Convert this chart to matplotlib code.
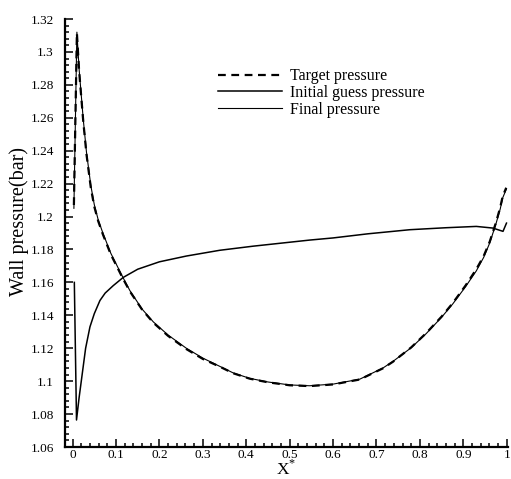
import matplotlib
matplotlib.use('Agg')
import matplotlib.pyplot as plt
from matplotlib.ticker import MultipleLocator

plt.rcParams['font.family'] = ['Liberation Serif', 'DejaVu Serif']
plt.rcParams['mathtext.fontset'] = 'custom'
plt.rcParams['mathtext.rm'] = 'Liberation Serif'

# target pressure (dashed)
x_target = [0.003, 0.0099, 0.015, 0.0245, 0.032, 0.042, 0.050, 0.059, 0.070, 0.088,
            0.115, 0.132, 0.16, 0.186, 0.22, 0.262, 0.30, 0.339, 0.37, 0.408,
            0.45, 0.50, 0.546, 0.60, 0.6615, 0.715, 0.738, 0.78, 0.815, 0.85,
            0.876, 0.905, 0.93, 0.947, 0.961, 0.9755, 0.985, 0.991, 0.999]
p_target = [1.207, 1.3115, 1.2885, 1.258, 1.2378, 1.2175, 1.206, 1.1972, 1.189, 1.177,
            1.1628, 1.1545, 1.1435, 1.1355, 1.1275, 1.1195, 1.1135, 1.1088, 1.1048, 1.1015,
            1.0993, 1.0975, 1.097, 1.098, 1.101, 1.1078, 1.1118, 1.1205, 1.1293, 1.1392,
            1.1475, 1.158, 1.168, 1.176, 1.1848, 1.1965, 1.2055, 1.2125, 1.2175]

# final pressure (thin solid)
x_final = [0.003, 0.0099, 0.015, 0.0245, 0.032, 0.042, 0.050, 0.059, 0.070, 0.088,
           0.115, 0.132, 0.16, 0.186, 0.22, 0.262, 0.30, 0.339, 0.37, 0.408,
           0.45, 0.50, 0.546, 0.60, 0.6615, 0.715, 0.738, 0.78, 0.815, 0.85,
           0.876, 0.905, 0.93, 0.947, 0.961, 0.9755, 0.985, 0.991, 0.999]
p_final = [1.205, 1.312, 1.2895, 1.2592, 1.239, 1.2188, 1.2072, 1.198, 1.1898, 1.1777,
           1.1635, 1.155, 1.1438, 1.136, 1.128, 1.120, 1.114, 1.109, 1.105, 1.1017,
           1.0995, 1.0977, 1.0972, 1.0982, 1.1012, 1.108, 1.112, 1.1203, 1.129, 1.1388,
           1.147, 1.1573, 1.167, 1.1752, 1.184, 1.1958, 1.2045, 1.2115, 1.2165]

# initial guess pressure (solid)
x_init = [0.004, 0.009, 0.015, 0.0245, 0.030, 0.040, 0.050, 0.063, 0.075, 0.0935,
          0.1165, 0.15, 0.20, 0.262, 0.339, 0.416, 0.546, 0.60, 0.68, 0.777,
          0.86, 0.93, 0.968, 0.9915, 0.9995]
p_init = [1.160, 1.0764, 1.090, 1.109, 1.120, 1.133, 1.141, 1.149, 1.1535, 1.158,
          1.163, 1.168, 1.1725, 1.176, 1.1795, 1.182, 1.1857, 1.187, 1.1895, 1.192,
          1.1932, 1.194, 1.193, 1.191, 1.196]

x_ticks = [0, 0.1, 0.2, 0.3, 0.4, 0.5, 0.6, 0.7, 0.8, 0.9, 1]
x_ticklabels = ['0', '0.1', '0.2', '0.3', '0.4', '0.5', '0.6', '0.7', '0.8', '0.9', '1']
y_ticks = [1.06, 1.08, 1.1, 1.12, 1.14, 1.16, 1.18, 1.2, 1.22, 1.24, 1.26, 1.28, 1.3, 1.32]
y_ticklabels = ['1.06', '1.08', '1.1', '1.12', '1.14', '1.16', '1.18', '1.2',
                '1.22', '1.24', '1.26', '1.28', '1.3', '1.32']

fig = plt.figure(figsize=(5.11, 4.79), dpi=100)
ax = fig.add_axes([65 / 511, 1 - 447 / 479, 443 / 511, 428 / 479])

ax.plot(x_target, p_target, color='black', linewidth=1.6, dashes=(3.5, 2.5),
        label='Target pressure')
ax.plot(x_init, p_init, color='black', linewidth=1.1, label='Initial guess pressure')
ax.plot(x_final, p_final, color='black', linewidth=0.8, label='Final pressure')

ax.set_xlim(-0.0175, 1.003)
ax.set_ylim(1.06, 1.32)

for side in ['top', 'right']:
    ax.spines[side].set_visible(False)
for side in ['left', 'bottom']:
    ax.spines[side].set_linewidth(1.6)

ax.set_xticks(x_ticks)
ax.set_xticklabels(x_ticklabels)
ax.set_yticks(y_ticks)
ax.set_yticklabels(y_ticklabels)
ax.xaxis.set_minor_locator(MultipleLocator(0.02))
ax.yaxis.set_minor_locator(MultipleLocator(0.004))
ax.tick_params(which='both', direction='in', top=False, right=False, width=1.1)
ax.tick_params(which='major', length=5.5, labelsize=9.5)
ax.tick_params(which='minor', length=3)
ax.tick_params(axis='y', which='major', pad=8)
ax.tick_params(axis='x', which='major', pad=1.5)

ax.set_xlabel(r'$\mathrm{X}^{*}$', fontsize=12.5, labelpad=-1.0)
ax.set_ylabel('Wall pressure(bar)', fontsize=14.5)
ax.yaxis.set_label_coords(-0.082, 0.526)

ax.legend(loc='upper left', bbox_to_anchor=(0.332, 0.90), frameon=False,
          fontsize=11.5, handlelength=4.0, handletextpad=0.5,
          labelspacing=0.05, borderaxespad=0)

fig.savefig('out.png', dpi=100, facecolor='white')
plt.close(fig)
